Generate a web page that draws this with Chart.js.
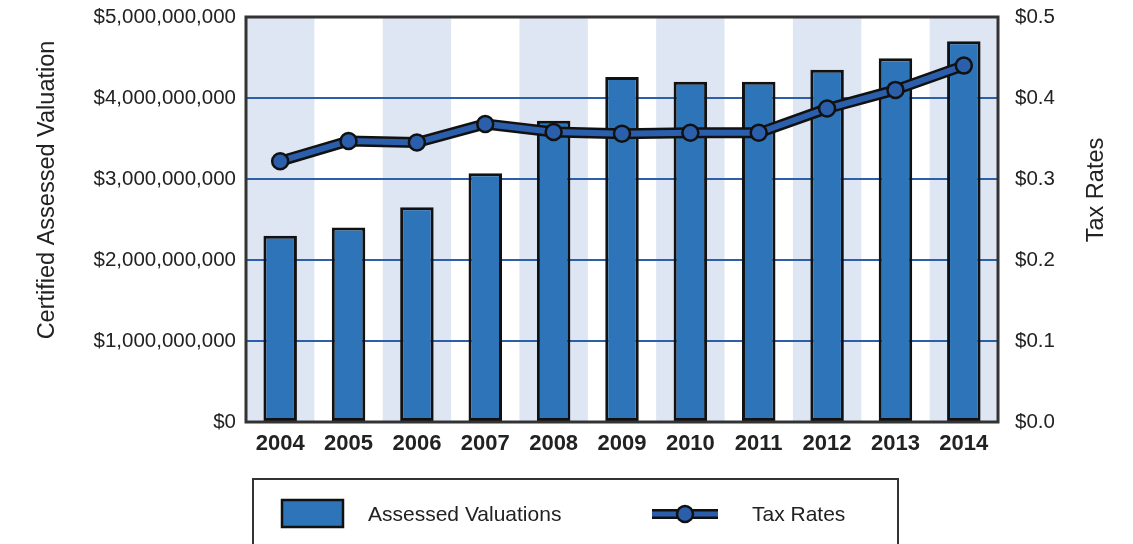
<!DOCTYPE html>
<html>
<head>
<meta charset="utf-8">
<script src="https://cdn.jsdelivr.net/npm/chart.js@4.4.0/dist/chart.umd.min.js"></script>
<style>
  html, body { margin: 0; padding: 0; background: #fff; }
</style>
</head>
<body>
<canvas id="myChart" width="1133" height="544"></canvas>
<script>
const years = ['2004', '2005', '2006', '2007', '2008', '2009', '2010', '2011', '2012', '2013', '2014'];
const valuations = [2300000000, 2400000000, 2650000000, 3070000000, 3720000000, 4260000000, 4200000000, 4200000000, 4350000000, 4490000000, 4700000000];
const taxRates = [0.322, 0.347, 0.345, 0.368, 0.358, 0.356, 0.357, 0.357, 0.387, 0.410, 0.440];
const leftTitle = 'Certified Assessed Valuation';
const rightTitle = 'Tax Rates';
const barLabel = 'Assessed Valuations';
const lineLabel = 'Tax Rates';

const barBlue = '#2e74b8';
const lineBlue = '#2b5fab';
const bandColor = '#dfe6f3';
const FONT = '"Liberation Sans", Arial, sans-serif';

// alternating shaded columns behind the plot
const bandsPlugin = {
  id: 'bands',
  beforeDraw(chart) {
    const {ctx, chartArea, scales} = chart;
    const x = scales.x;
    const w = (chartArea.right - chartArea.left) / years.length;
    ctx.save();
    ctx.fillStyle = bandColor;
    years.forEach((y, i) => {
      if (i % 2 == 0) {
        const cx = x.getPixelForValue(i);
        ctx.fillRect(cx - w / 2, chartArea.top, w, chartArea.bottom - chartArea.top);
      }
    });
    ctx.restore();
  }
};

// black outline under the tax rate line
const outlinePlugin = {
  id: 'outline',
  beforeDatasetDraw(chart, args) {
    if (args.index != 1) return;
    const pts = args.meta.data;
    const ctx = chart.ctx;
    ctx.save();
    ctx.strokeStyle = '#111';
    ctx.lineWidth = 11;
    ctx.lineJoin = 'round';
    ctx.beginPath();
    pts.forEach((p, i) => { i ? ctx.lineTo(p.x, p.y) : ctx.moveTo(p.x, p.y); });
    ctx.stroke();
    ctx.restore();
  }
};

// frame, axis titles and boxed legend
const framePlugin = {
  id: 'frame',
  afterDraw(chart) {
    const {ctx, chartArea} = chart;
    ctx.save();
    ctx.strokeStyle = '#333';
    ctx.lineWidth = 3;
    ctx.strokeRect(chartArea.left, chartArea.top, chartArea.right - chartArea.left, chartArea.bottom - chartArea.top);

    ctx.fillStyle = '#222';
    ctx.font = '23.5px ' + FONT;
    ctx.textAlign = 'center';
    ctx.textBaseline = 'middle';
    ctx.save();
    ctx.translate(48, 190);
    ctx.rotate(-Math.PI / 2);
    ctx.fillText(leftTitle, 0, 0);
    ctx.restore();
    ctx.save();
    ctx.translate(1097, 190);
    ctx.rotate(-Math.PI / 2);
    ctx.fillText(rightTitle, 0, 0);
    ctx.restore();

    // legend
    ctx.strokeStyle = '#333';
    ctx.lineWidth = 2;
    ctx.strokeRect(253, 479, 645, 100);
    ctx.fillStyle = barBlue;
    ctx.fillRect(282, 500, 61, 27);
    ctx.strokeStyle = '#111';
    ctx.lineWidth = 2.5;
    ctx.strokeRect(282, 500, 61, 27);

    ctx.beginPath();
    ctx.moveTo(652, 514); ctx.lineTo(718, 514);
    ctx.lineWidth = 10; ctx.strokeStyle = '#111'; ctx.stroke();
    ctx.lineWidth = 5; ctx.strokeStyle = lineBlue; ctx.stroke();
    ctx.beginPath();
    ctx.arc(685, 514, 8, 0, Math.PI * 2);
    ctx.fillStyle = lineBlue; ctx.fill();
    ctx.lineWidth = 2.5; ctx.strokeStyle = '#111'; ctx.stroke();

    ctx.fillStyle = '#222';
    ctx.font = '21px ' + FONT;
    ctx.textAlign = 'left';
    ctx.fillText(barLabel, 368, 515);
    ctx.fillText(lineLabel, 752, 515);
    ctx.restore();
  }
};

const noPad = s => { s.paddingTop = 0; s.paddingBottom = 0; };

const config = {
  data: {
    labels: years,
    datasets: [
      {
        type: 'bar',
        label: barLabel,
        data: valuations,
        backgroundColor: barBlue,
        borderColor: '#111',
        borderWidth: 3,
        borderSkipped: false,
        barPercentage: 0.49,
        categoryPercentage: 1,
        yAxisID: 'y',
        order: 2
      }, {
        type: 'line',
        label: lineLabel,
        data: taxRates,
        borderColor: lineBlue,
        borderWidth: 6,
        pointRadius: 8,
        pointBackgroundColor: lineBlue,
        pointBorderColor: '#111',
        pointBorderWidth: 2.5,
        tension: 0,
        yAxisID: 'y1',
        order: 1
      }
    ]
  },
  options: {
    responsive: false,
    animation: false,
    devicePixelRatio: 1,
    layout: { padding: { top: 17, left: 0, right: 0, bottom: 0 } },
    plugins: { legend: { display: false }, tooltip: { enabled: false } },
    scales: {
      x: {
        position: 'bottom',
        grid: { display: false },
        border: { display: false },
        ticks: { color: '#222', font: { family: FONT, size: 22, weight: 'bold' }, padding: 1 },
        afterFit: s => { s.height = 122; }
      },
      y: {
        position: 'left',
        min: 0, max: 5000000000,
        grid: { color: '#2d5fa9', lineWidth: 2, drawTicks: false },
        border: { display: false },
        ticks: {
          stepSize: 1000000000,
          color: '#222',
          font: { family: FONT, size: 20.5 },
          padding: 10,
          callback: v => '$' + v.toLocaleString('en-US')
        },
        afterFit: s => { s.width = 246; noPad(s); }
      },
      y1: {
        position: 'right',
        min: 0, max: 0.5,
        grid: { display: false, drawTicks: false },
        border: { display: false },
        ticks: {
          stepSize: 0.1,
          color: '#222',
          font: { family: FONT, size: 20.5 },
          padding: 17,
          callback: v => '$' + v.toFixed(1)
        },
        afterFit: s => { s.width = 135; noPad(s); }
      }
    }
  },
  plugins: [bandsPlugin, outlinePlugin, framePlugin]
};

new Chart(document.getElementById('myChart'), config);
</script>
</body>
</html>
